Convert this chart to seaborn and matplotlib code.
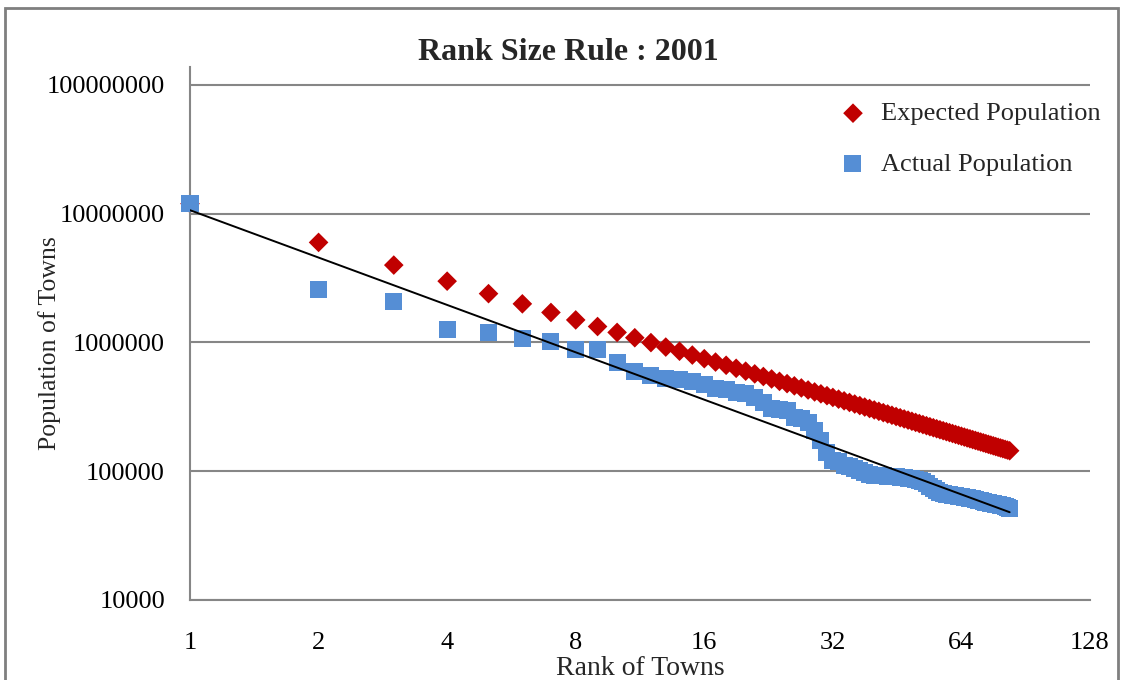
import numpy as np
import pandas as pd
import seaborn as sns
import matplotlib
matplotlib.use("Agg")
import matplotlib.pyplot as plt
from matplotlib.patches import Rectangle

# rank of towns 1..83
ranks = list(range(1, 84))

# expected population (rank size rule)
expected = [
    11978450, 5989225, 3992817, 2994613, 2395690, 1996408, 1711207, 1497306, 1330939, 1197845,
    1088950, 998204, 921419, 855604, 798563, 748653, 704615, 665469, 630444, 598923,
    570402, 544475, 520802, 499102, 479138, 460710, 443646, 427802, 413050, 399282,
    386402, 374327, 362983, 352307, 342241, 332735, 323742, 315222, 307140, 299461,
    292157, 285201, 278569, 272238, 266188, 260401, 254861, 249551, 244458, 239569,
    234872, 230355, 226008, 221823, 217790, 213901, 210148, 206525, 203025, 199641,
    196368, 193201, 190134, 187163, 184284, 181492, 178783, 176154, 173601, 171121,
    168711, 166367, 164088, 161871, 159713, 157611, 155564, 153570, 151626, 149731,
    147882, 146079, 144319,
]

# actual population (blue squares)
actual = [
    11978450, 2560000, 2070000, 1260000, 1200000, 1070000, 1020000, 883000, 880000, 700000,
    596000, 554000, 525000, 517000, 498000, 472000, 440000, 431000, 409000, 402000,
    374000, 342000, 307000, 302000, 297000, 261000, 257000, 239000, 207000, 173000,
    140000, 121000, 119000, 111000, 109000, 105000, 101000, 98000, 94000, 93000,
    93000, 93000, 91000, 91000, 91000, 89000, 89000, 88000, 88000, 86000,
    85000, 83000, 80000, 76000, 73000, 71000, 68000, 67000, 66000, 66000,
    65000, 65000, 64000, 64000, 63000, 63000, 61000, 61000, 60000, 59000,
    59000, 58000, 57000, 57000, 56000, 56000, 55000, 55000, 54000, 54000,
    53000, 52000, 51000,
]

x_ticks = [1, 2, 4, 8, 16, 32, 64, 128]
y_ticks = [10000, 100000, 1000000, 10000000, 100000000]

df = pd.DataFrame({"rank": ranks, "expected": expected, "actual": actual})

# power trendline fitted on the actual population
b, a = np.polyfit(np.log(df["rank"]), np.log(df["actual"]), 1)
df["trend"] = np.exp(a) * df["rank"] ** b

sns.set_theme(style="white")
plt.rcParams["font.family"] = ["Liberation Serif", "DejaVu Serif"]

fig = plt.figure(figsize=(11.24, 6.8), dpi=100)
ax = fig.add_axes([190 / 1124, 1 - 600 / 680, 900 / 1124, 533 / 680])

grid_col = "#868686"
for yv in y_ticks:
    ax.axhline(yv, color=grid_col, lw=1.5, zorder=0)

sns.scatterplot(data=df, x="rank", y="expected", marker="D", s=100, color="#C00000",
                edgecolor="none", label="Expected Population", ax=ax, zorder=2, clip_on=False)
sns.scatterplot(data=df, x="rank", y="actual", marker="s", s=150, color="#558ED5",
                edgecolor="none", label="Actual Population", ax=ax, zorder=3, clip_on=False)
sns.lineplot(data=df, x="rank", y="trend", color="black", lw=1.4, ax=ax, zorder=4)

ax.set_xscale("log", base=2)
ax.set_yscale("log")
ax.set_xlim(1, 128)
ax.set_ylim(10000, 10 ** (4 + 533 / 128.75))
ax.set_xticks(x_ticks)
ax.set_xticklabels([str(v) for v in x_ticks])
ax.set_yticks(y_ticks)
ax.set_yticklabels([str(v) for v in y_ticks])
ax.minorticks_off()

for side in ["top", "right"]:
    ax.spines[side].set_visible(False)
for side in ["left", "bottom"]:
    ax.spines[side].set_color(grid_col)
    ax.spines[side].set_linewidth(1.5)

ax.tick_params(axis="both", which="major", direction="out", length=8, width=1.5,
               color=grid_col, labelsize=19, labelcolor="black")
ax.tick_params(axis="x", pad=15)
ax.tick_params(axis="y", pad=10)

ax.set_xlabel("Rank of Towns", fontsize=20)
ax.xaxis.set_label_coords(0.5, -0.106)
ax.set_ylabel("Population of Towns", fontsize=18.5)
ax.yaxis.set_label_coords(-0.143, 0.482)
fig.text(568 / 1124, 1 - 52 / 680, "Rank Size Rule : 2001", ha="center", va="center",
         fontsize=23, fontweight="bold")

leg = ax.legend(loc="upper left", bbox_to_anchor=(0.722, 0.935), frameon=False, fontsize=19,
                labelspacing=1.03, handlelength=1.0, handletextpad=0.55, borderpad=0,
                borderaxespad=0)

# outer chart frame
fig.patches.append(Rectangle((5 / 1124, -0.05), 1113 / 1124, 1.05 - 8 / 680,
                             transform=fig.transFigure, fill=False, edgecolor="#7f7f7f", lw=2))

fig.savefig("out.png", dpi=100)
